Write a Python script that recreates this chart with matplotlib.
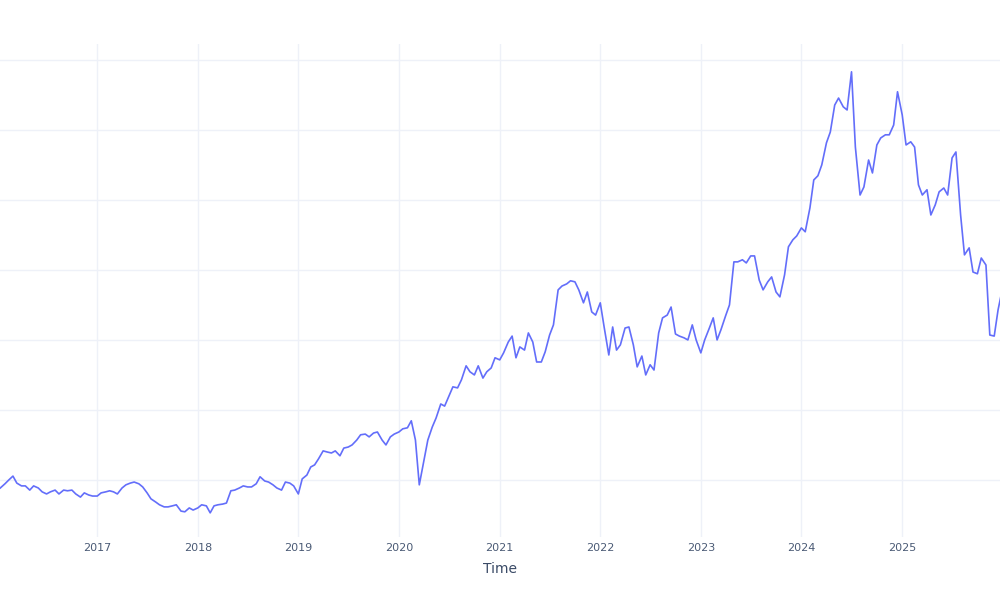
import numpy as np
import pandas as pd
import matplotlib.pyplot as plt
import matplotlib.dates as mdates

# valores, uno cada medio mes desde 2016-01-15
valores = [
    17.7, 18.9, 20.0, 21.1, 19.1, 18.3, 18.3, 17.1, 18.3, 17.7, 16.6, 16.0,
    16.6, 17.1, 16.0, 17.1, 16.9, 17.1, 16.0, 15.1, 16.3, 15.7, 15.4, 15.4,
    16.3, 16.6, 16.9, 16.6, 16.0, 17.7, 18.6, 19.1, 19.4, 18.9, 18.0, 16.3,
    14.6, 13.7, 12.9, 12.3, 12.3, 12.6, 12.9, 11.1, 10.9, 12.0, 11.4, 12.0,
    12.9, 12.6, 10.6, 12.6, 12.9, 13.1, 13.4, 16.9, 17.1, 17.7, 18.3, 18.0,
    18.0, 18.9, 20.9, 19.7, 19.4, 18.6, 17.7, 17.1, 19.4, 19.1, 18.3, 16.0,
    20.3, 21.4, 23.7, 24.3, 26.0, 28.3, 28.0, 27.7, 28.3, 26.9, 29.1, 29.4,
    30.0, 31.4, 32.9, 33.1, 32.3, 33.4, 33.7, 31.4, 30.0, 32.3, 33.1, 33.7,
    34.6, 34.9, 36.9, 31.4, 18.6, 25.7, 31.4, 35.1, 37.7, 41.7, 41.1, 44.0,
    46.6, 46.3, 48.6, 52.6, 50.9, 50.0, 52.6, 49.1, 50.9, 52.0, 54.9, 54.3,
    56.3, 59.4, 61.1, 54.9, 58.0, 57.1, 62.0, 59.4, 53.7, 53.7, 56.6, 61.4,
    64.3, 74.3, 75.4, 76.0, 76.9, 76.6, 74.3, 70.6, 73.7, 68.0, 67.1, 70.6,
    63.7, 55.7, 63.7, 57.1, 58.6, 63.4, 63.7, 58.6, 52.3, 55.4, 50.0, 52.9,
    51.4, 62.0, 66.3, 67.1, 69.4, 61.7, 61.1, 60.6, 60.0, 64.3, 60.0, 56.3,
    60.0, 63.4, 66.3, 60.0, 62.9, 66.9, 70.0, 82.3, 82.3, 82.9, 82.0, 84.0,
    84.0, 77.1, 74.3, 76.6, 78.0, 73.7, 72.3, 78.6, 86.6, 88.6, 89.7, 92.0,
    90.9, 97.7, 105.7, 106.9, 110.0, 116.3, 119.4, 127.1, 129.1, 126.6, 125.7, 136.6,
    115.1, 101.4, 103.7, 111.4, 107.7, 115.7, 117.7, 118.6, 118.6, 121.4, 130.9, 124.3,
    115.7, 116.6, 115.1, 104.3, 101.4, 102.9, 95.7, 98.6, 102.3, 103.4, 101.4, 112.0,
    113.7, 95.7, 84.3, 86.3, 79.4, 78.9, 83.4, 81.4, 61.4, 61.1, 68.6, 75.1,
]
fechas = pd.date_range('2016-01-15', periods=len(valores), freq='SMS')

anios = [2017, 2018, 2019, 2020, 2021, 2022, 2023, 2024, 2025]
lineas_y = [20, 40, 60, 80, 100, 120, 140]

fig = plt.figure(figsize=(10, 6), dpi=100)
ax = fig.add_axes([0, 0.105, 1, 0.822])

ax.plot(fechas, valores, color='#636efa', lw=1.2, zorder=3)

ax.set_xlim(pd.Timestamp('2016-01-14'), pd.Timestamp('2025-12-22'))
ax.set_ylim(3.7, 144.6)

ticks = [pd.Timestamp(f'{a}-01-01') for a in anios]
ax.set_xticks(ticks)
ax.set_xticklabels([str(a) for a in anios])
ax.set_yticks(lineas_y)
ax.set_yticklabels([])

ax.grid(True, color='#eef1f8', lw=1, zorder=0)
for s in ax.spines.values():
    s.set_visible(False)
ax.tick_params(axis='both', length=0, colors='#4a5a75', labelsize=8, pad=4)
ax.set_xlabel('Time', color='#3a4a66', fontsize=10, labelpad=7)

fig.savefig('out.png', dpi=100, facecolor='white')
